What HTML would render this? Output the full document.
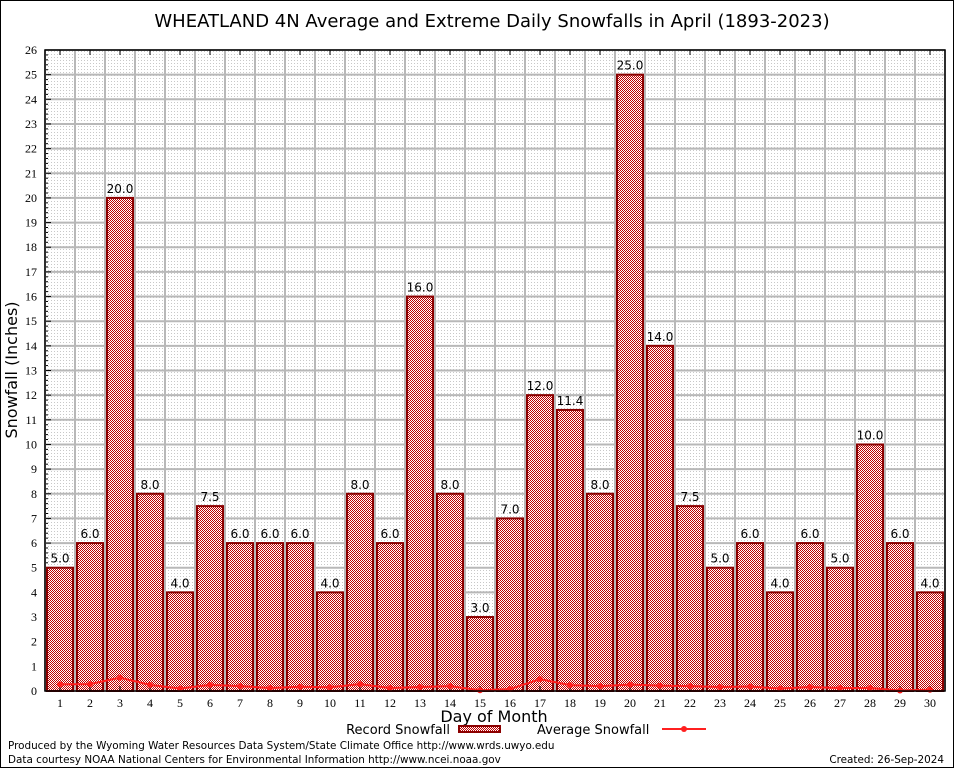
<!DOCTYPE html>
<html><head><meta charset="utf-8"><style>
html,body{margin:0;padding:0;background:#fff}
svg{display:block}
text{font-family:"DejaVu Sans","Liberation Sans",sans-serif}
</style></head><body>
<svg id="c" width="954" height="768" xmlns="http://www.w3.org/2000/svg">
<defs>
<pattern id="chk" width="2" height="2" patternUnits="userSpaceOnUse"><rect width="2" height="2" fill="#fff"/><rect width="1" height="1" fill="#c00000"/><rect x="1" y="1" width="1" height="1" fill="#c00000"/></pattern>
<pattern id="dots" width="3" height="3" patternUnits="userSpaceOnUse"><rect width="1" height="1" fill="#c8c8c8"/></pattern>
</defs>
<rect x="0.5" y="0.5" width="953" height="767" fill="#fff" stroke="#000"/>
<text x="492" y="27" font-size="18" text-anchor="middle">WHEATLAND 4N Average and Extreme Daily Snowfalls in April (1893-2023)</text>
<g id="plot"></g>
<text transform="translate(17,370) rotate(-90)" font-size="16" text-anchor="middle">Snowfall (Inches)</text>
<text x="494" y="722" font-size="16" text-anchor="middle">Day of Month</text>
<g>
<text x="450" y="734" font-size="13" text-anchor="end">Record Snowfall</text>
<rect x="459" y="726" width="41" height="6" fill="url(#chk)" stroke="#8b0000" stroke-width="2"/>
<text x="537" y="734" font-size="13">Average Snowfall</text>
<line x1="662" y1="729" x2="706" y2="729" stroke="#ff2020" stroke-width="2"/>
<circle cx="684" cy="729" r="3" fill="#ff2020"/>
</g>
<text x="8" y="749" font-size="10.4">Produced by the Wyoming Water Resources Data System/State Climate Office http://www.wrds.uwyo.edu</text>
<text x="8" y="763" font-size="10.4">Data courtesy NOAA National Centers for Environmental Information http://www.ncei.noaa.gov</text>
<text x="944" y="763" font-size="10.4" text-anchor="end">Created: 26-Sep-2024</text>
</svg>
<script>
const days=[1,2,3,4,5,6,7,8,9,10,11,12,13,14,15,16,17,18,19,20,21,22,23,24,25,26,27,28,29,30];
const recordSnow=[5.0,6.0,20.0,8.0,4.0,7.5,6.0,6.0,6.0,4.0,8.0,6.0,16.0,8.0,3.0,7.0,12.0,11.4,8.0,25.0,14.0,7.5,5.0,6.0,4.0,6.0,5.0,10.0,6.0,4.0];
const avgSnow=[0.27,0.28,0.54,0.25,0.1,0.25,0.2,0.12,0.17,0.15,0.28,0.12,0.16,0.2,0.03,0.08,0.48,0.24,0.2,0.26,0.22,0.2,0.16,0.18,0.1,0.16,0.12,0.12,0.02,0.05];
const yTicks=[0,1,2,3,4,5,6,7,8,9,10,11,12,13,14,15,16,17,18,19,20,21,22,23,24,25,26];
const L=45,R=945,T=50,B=691,ymax=26;
const x=d=>L+(d-0.5)*(R-L)/30;
const y=v=>B-v*(B-T)/ymax;
const NS="http://www.w3.org/2000/svg";
const g=document.getElementById('plot');
function mk(tag,at,parent){const e=document.createElementNS(NS,tag);for(const k in at)e.setAttribute(k,at[k]);(parent||g).appendChild(e);return e;}
let e=mk('rect',{x:L,y:T,width:R-L,height:B-T,fill:'url(#dots)'});


yTicks.forEach(t=>{
 let l=mk('line',{x1:L,x2:R,y1:y(t),y2:y(t),stroke:'#b8b8b8','stroke-width':2});
 
 
 let tx=mk('text',{x:L-8,y:y(t)+4,'font-size':12,'text-anchor':'end',style:'font-family:"Liberation Serif",serif'});
 tx.textContent=t;
 
 
 mk('line',{x1:L,x2:L+6,y1:y(t),y2:y(t),stroke:'#000'});
 if(t<ymax){for(let k=1;k<5;k++){mk('line',{x1:L,x2:L+3,y1:y(t+k/5),y2:y(t+k/5),stroke:'#000'});}}
});
for(let i=0;i<=30;i++){
 let l=mk('line',{x1:L+i*30,x2:L+i*30,y1:T,y2:B,stroke:'#b8b8b8','stroke-width':2});
 
 
}
days.forEach((d,i)=>{
 const v=recordSnow[i];
 let b=mk('rect',{x:x(d)-13,y:y(v),width:26,height:B-y(v),fill:'url(#chk)',stroke:'#8b0000','stroke-width':2});
 
 
 let lb=mk('text',{x:x(d),y:y(v)-5,'font-size':12,'text-anchor':'middle'});
 lb.textContent=v.toFixed(1);
 
 
 let tk=mk('text',{x:x(d),y:B+16,'font-size':12,'text-anchor':'middle',style:'font-family:"Liberation Serif",serif'});
 tk.textContent=d;
 
 
 mk('line',{x1:x(d),x2:x(d),y1:B,y2:B-5,stroke:'#000'});
 mk('line',{x1:x(d),x2:x(d),y1:T,y2:T+5,stroke:'#000'});
});
let pl=mk('polyline',{points:days.map((d,i)=>x(d)+','+y(avgSnow[i])).join(' '),fill:'none',stroke:'#ff2020','stroke-width':2});


days.forEach((d,i)=>{
 let c=mk('circle',{cx:x(d),cy:y(avgSnow[i]),r:3,fill:'#ff2020'});
 
 
});
let fr=mk('rect',{x:L,y:T,width:R-L,height:B-T,fill:'none',stroke:'#000','stroke-width':1.5});


</script>
</body></html>
